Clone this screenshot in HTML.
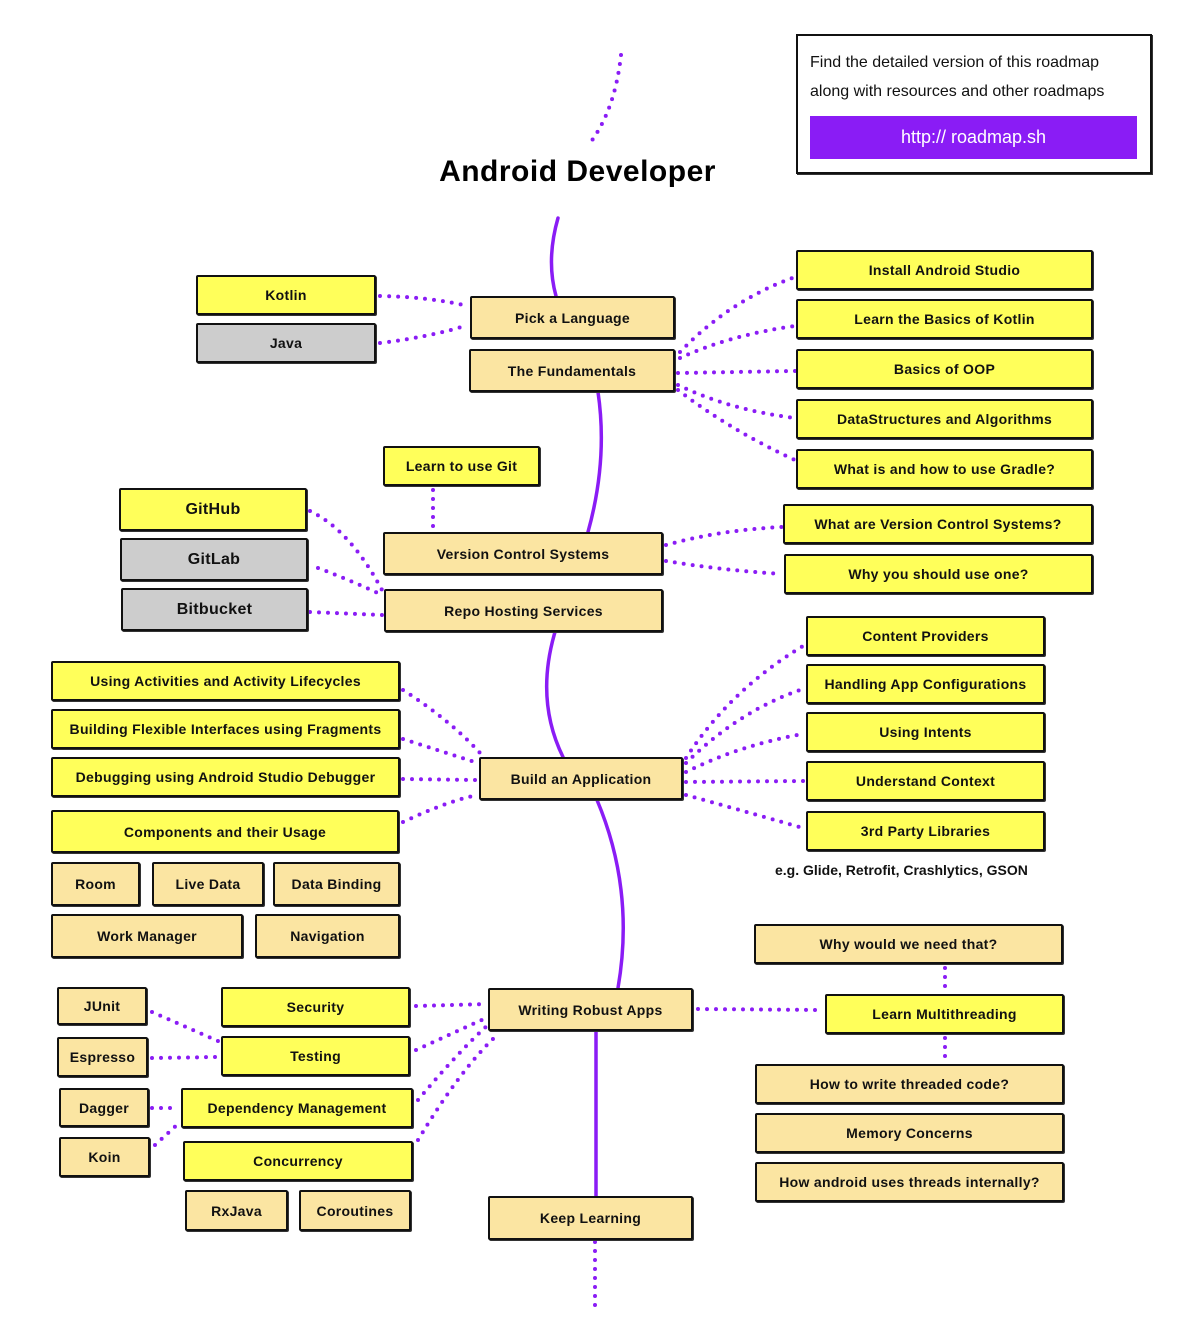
<!DOCTYPE html>
<html><head><meta charset="utf-8">
<style>
body{margin:0;background:#fff;}
#c{position:relative;width:1200px;height:1332px;overflow:hidden;font-family:"Liberation Sans",sans-serif;}
.b{position:absolute;box-sizing:border-box;border:2px solid #111;border-radius:2px;display:flex;align-items:center;justify-content:center;font-weight:bold;font-size:14px;color:#111;letter-spacing:0.3px;box-shadow:1px 1px 0 #333;}
.y{background:#ffff5a;}.t{background:#fbe5a2;}.g{background:#cdcdcd;}
svg{position:absolute;left:0;top:0;}
</style></head><body><div id="c">
<svg width="1200" height="1332">
<g fill="none" stroke="#8a1cf5" stroke-width="3.5" stroke-linecap="round">
<path d="M558 218 Q546 260 556 296"/>
<path d="M598 392 Q608 460 588 532"/>
<path d="M555 632 Q535 700 563 757"/>
<path d="M597 800 Q635 890 618 988"/>
<path d="M596 1031 L596 1196"/>
</g>
<g fill="none" stroke="#8a1cf5" stroke-width="4" stroke-linecap="round" stroke-dasharray="0 9">
<path d="M621 55 Q615 110 590 143"/>
<path d="M595 1242 L595 1306"/>
<path d="M380 296 Q430 297 468 306"/>
<path d="M380 343 Q430 337 468 325"/>
<path d="M680 352 Q730 300 795 277"/>
<path d="M680 358 Q730 335 795 326"/>
<path d="M678 373 L795 371"/>
<path d="M678 385 Q730 410 795 418"/>
<path d="M678 390 Q730 430 795 460"/>
<path d="M433 490 L433 528"/>
<path d="M310 511 Q350 530 382 590"/>
<path d="M318 568 Q350 580 382 595"/>
<path d="M310 612 L382 615"/>
<path d="M666 545 Q720 530 782 527"/>
<path d="M666 561 Q720 570 782 574"/>
<path d="M403 690 Q450 720 480 753"/>
<path d="M403 739 L478 763"/>
<path d="M403 779 L478 780"/>
<path d="M403 822 Q450 800 478 795"/>
<path d="M686 758 Q730 690 803 646"/>
<path d="M686 763 Q740 710 803 689"/>
<path d="M686 772 Q740 745 803 734"/>
<path d="M686 782 L803 781"/>
<path d="M686 795 Q740 810 803 828"/>
<path d="M945 968 L945 992"/>
<path d="M945 1038 L945 1062"/>
<path d="M698 1009 L822 1010"/>
<path d="M416 1006 L486 1004"/>
<path d="M416 1050 L486 1018"/>
<path d="M418 1100 Q460 1050 488 1025"/>
<path d="M418 1140 Q460 1070 496 1036"/>
<path d="M152 1012 L218 1041"/>
<path d="M152 1058 L218 1057"/>
<path d="M152 1108 L179 1108"/>
<path d="M155 1145 L179 1123"/>
</g>
</svg>
<div style="position:absolute;left:0;width:1155px;top:155px;text-align:center;font-weight:bold;font-size:30px;color:#000;letter-spacing:0.5px;">Android Developer</div>
<div style="position:absolute;left:796px;top:34px;width:356px;height:140px;box-sizing:border-box;border:2px solid #111;box-shadow:1px 1px 0 #333;"></div>
<div style="position:absolute;left:810px;top:48px;font-size:16px;line-height:29px;color:#111;">Find the detailed version of this roadmap<br>along with resources and other roadmaps</div>
<div style="position:absolute;left:810px;top:116px;width:327px;height:43px;background:#8a1cf5;color:#fff;font-size:18px;display:flex;align-items:center;justify-content:center;">http:// roadmap.sh</div>

<div class="b y" style="left:196px;top:275px;width:180px;height:40px">Kotlin</div>
<div class="b g" style="left:196px;top:323px;width:180px;height:40px">Java</div>
<div class="b t" style="left:470px;top:296px;width:205px;height:43px">Pick a Language</div>
<div class="b t" style="left:469px;top:349px;width:206px;height:43px">The Fundamentals</div>
<div class="b y" style="left:796px;top:250px;width:297px;height:40px">Install Android Studio</div>
<div class="b y" style="left:796px;top:299px;width:297px;height:40px">Learn the Basics of Kotlin</div>
<div class="b y" style="left:796px;top:349px;width:297px;height:40px">Basics of OOP</div>
<div class="b y" style="left:796px;top:399px;width:297px;height:40px">DataStructures and Algorithms</div>
<div class="b y" style="left:796px;top:449px;width:297px;height:40px">What is and how to use Gradle?</div>
<div class="b y" style="left:383px;top:446px;width:157px;height:40px">Learn to use Git</div>
<div class="b y" style="left:119px;top:488px;width:188px;height:43px;font-size:16px">GitHub</div>
<div class="b g" style="left:120px;top:538px;width:188px;height:43px;font-size:16px">GitLab</div>
<div class="b g" style="left:121px;top:588px;width:187px;height:43px;font-size:16px">Bitbucket</div>
<div class="b t" style="left:383px;top:532px;width:280px;height:43px">Version Control Systems</div>
<div class="b t" style="left:384px;top:589px;width:279px;height:43px">Repo Hosting Services</div>
<div class="b y" style="left:783px;top:504px;width:310px;height:40px">What are Version Control Systems?</div>
<div class="b y" style="left:784px;top:554px;width:309px;height:40px">Why you should use one?</div>
<div class="b y" style="left:806px;top:616px;width:239px;height:40px">Content Providers</div>
<div class="b y" style="left:806px;top:664px;width:239px;height:40px">Handling App Configurations</div>
<div class="b y" style="left:806px;top:712px;width:239px;height:40px">Using Intents</div>
<div class="b y" style="left:806px;top:761px;width:239px;height:40px">Understand Context</div>
<div class="b y" style="left:806px;top:811px;width:239px;height:40px">3rd Party Libraries</div>
<div style="position:absolute;left:775px;top:862px;font-weight:bold;font-size:14px;color:#111;">e.g. Glide, Retrofit, Crashlytics, GSON</div>
<div class="b y" style="left:51px;top:661px;width:349px;height:40px">Using Activities and Activity Lifecycles</div>
<div class="b y" style="left:51px;top:709px;width:349px;height:40px">Building Flexible Interfaces using Fragments</div>
<div class="b y" style="left:51px;top:757px;width:349px;height:40px">Debugging using Android Studio Debugger</div>
<div class="b y" style="left:51px;top:810px;width:348px;height:43px">Components and their Usage</div>
<div class="b t" style="left:51px;top:862px;width:89px;height:44px">Room</div>
<div class="b t" style="left:152px;top:862px;width:112px;height:44px">Live Data</div>
<div class="b t" style="left:273px;top:862px;width:127px;height:44px">Data Binding</div>
<div class="b t" style="left:51px;top:914px;width:192px;height:44px">Work Manager</div>
<div class="b t" style="left:255px;top:914px;width:145px;height:44px">Navigation</div>
<div class="b t" style="left:479px;top:757px;width:204px;height:43px">Build an Application</div>
<div class="b t" style="left:754px;top:924px;width:309px;height:40px">Why would we need that?</div>
<div class="b y" style="left:825px;top:994px;width:239px;height:40px">Learn Multithreading</div>
<div class="b t" style="left:755px;top:1064px;width:309px;height:40px">How to write threaded code?</div>
<div class="b t" style="left:755px;top:1113px;width:309px;height:40px">Memory Concerns</div>
<div class="b t" style="left:755px;top:1162px;width:309px;height:40px">How android uses threads internally?</div>
<div class="b t" style="left:488px;top:988px;width:205px;height:43px">Writing Robust Apps</div>
<div class="b t" style="left:57px;top:987px;width:90px;height:38px">JUnit</div>
<div class="b t" style="left:57px;top:1037px;width:91px;height:40px">Espresso</div>
<div class="b t" style="left:59px;top:1088px;width:90px;height:39px">Dagger</div>
<div class="b t" style="left:59px;top:1137px;width:91px;height:40px">Koin</div>
<div class="b y" style="left:221px;top:987px;width:189px;height:40px">Security</div>
<div class="b y" style="left:221px;top:1036px;width:189px;height:40px">Testing</div>
<div class="b y" style="left:181px;top:1088px;width:232px;height:40px">Dependency Management</div>
<div class="b y" style="left:183px;top:1141px;width:230px;height:40px">Concurrency</div>
<div class="b t" style="left:185px;top:1190px;width:103px;height:41px">RxJava</div>
<div class="b t" style="left:299px;top:1190px;width:112px;height:41px">Coroutines</div>
<div class="b t" style="left:488px;top:1196px;width:205px;height:44px">Keep Learning</div>
</div></body></html>
